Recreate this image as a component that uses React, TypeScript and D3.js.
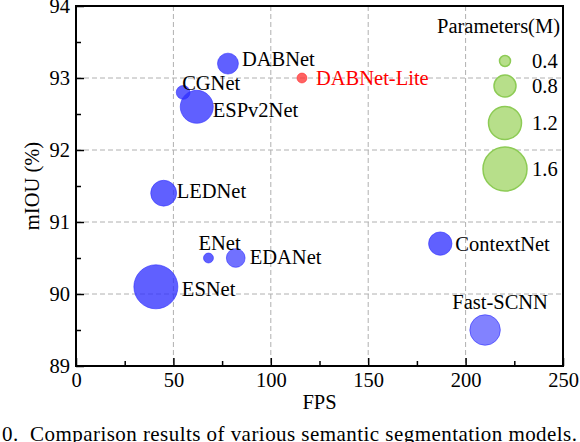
import * as d3 from "d3";
import { useEffect, useRef } from "react";

// models, FPS, mIOU (%) and parameters (M)
const models = ["DABNet", "CGNet", "ESPv2Net", "LEDNet", "DABNet-Lite", "ENet", "EDANet", "ESNet", "ContextNet", "Fast-SCNN"];
const fps = [78, 55, 62, 45, 116, 68, 82, 41, 187, 210];
const miou = [93.2, 92.8, 92.6, 91.4, 93.0, 90.5, 90.5, 90.1, 90.7, 89.5];
const params = [0.76, 0.5, 1.2, 0.94, 0.36, 0.36, 0.68, 1.6, 0.85, 1.11];

const legendSizes = [0.4, 0.8, 1.2, 1.6];
const xTicks = [0, 50, 100, 150, 200, 250];
const yTicks = [89, 90, 91, 92, 93, 94];

// label placement relative to each bubble centre (px)
const labelPlacement: Record<string, { dx: number; dy: number; anchor: string }> = {
    "DABNet": { dx: 14, dy: 2, anchor: "start" },
    "CGNet": { dx: -1, dy: -2, anchor: "start" },
    "ESPv2Net": { dx: 16, dy: 10, anchor: "start" },
    "LEDNet": { dx: 13, dy: 5, anchor: "start" },
    "DABNet-Lite": { dx: 14, dy: 7, anchor: "start" },
    "ENet": { dx: -10, dy: -8, anchor: "start" },
    "EDANet": { dx: 14, dy: 6, anchor: "start" },
    "ESNet": { dx: 26, dy: 9, anchor: "start" },
    "ContextNet": { dx: 15, dy: 7, anchor: "start" },
    "Fast-SCNN": { dx: 15, dy: -21, anchor: "middle" },
};

// a few bubbles are drawn lighter in the figure
const bubbleOpacity: Record<string, number> = { "EDANet": 0.68, "Fast-SCNN": 0.6 };

function drawChart(svgRef: React.RefObject<SVGSVGElement>) {
    const width = 580;
    const height = 442;
    const left = 76, right = 563, top = 6, bottom = 366;
    const font = "Liberation Serif, DejaVu Serif, Times New Roman, serif";

    const svg = d3.select(svgRef.current);
    svg.selectAll("*").remove();
    svg.attr("width", width).attr("height", height).attr("font-family", font);

    const x = d3.scaleLinear().domain([0, 250]).range([left, right]);
    const y = d3.scaleLinear().domain([89, 94]).range([bottom, top]);
    const r = d3.scaleLinear().domain([0, 1.6]).range([0, 22]);

    // dashed grid
    svg.append("g")
        .selectAll("line")
        .data(xTicks.slice(1, -1))
        .enter()
        .append("line")
        .attr("x1", d => x(d)).attr("x2", d => x(d))
        .attr("y1", top).attr("y2", bottom)
        .attr("stroke", "#b0b0b0").attr("stroke-width", 1)
        .attr("stroke-dasharray", "5,3");
    svg.append("g")
        .selectAll("line")
        .data(yTicks.slice(1, -1))
        .enter()
        .append("line")
        .attr("x1", left).attr("x2", right)
        .attr("y1", d => y(d)).attr("y2", d => y(d))
        .attr("stroke", "#b0b0b0").attr("stroke-width", 1)
        .attr("stroke-dasharray", "5,3");

    // inward ticks, major and minor
    const xAxis = d3.axisBottom(x).tickValues(xTicks).tickSize(-8).tickPadding(6).tickFormat(d3.format("d"));
    const xMinor = d3.axisBottom(x).tickValues(d3.range(25, 250, 50)).tickSize(-5).tickFormat(() => "");
    const yAxis = d3.axisLeft(y).tickValues(yTicks).tickSize(-8).tickPadding(6).tickFormat(d3.format("d"));
    const yMinor = d3.axisLeft(y).tickValues(d3.range(89.5, 94, 1)).tickSize(-5).tickFormat(() => "");

    const styleAxis = (g: any) => {
        g.attr("font-family", font).attr("font-size", 20.5);
        g.select(".domain").remove();
        g.selectAll(".tick line").attr("stroke", "#000").attr("stroke-width", 1.5);
        g.selectAll("text").attr("fill", "#000");
    };
    svg.append("g").attr("transform", `translate(0,${bottom})`).call(xAxis).call(styleAxis);
    svg.append("g").attr("transform", `translate(0,${bottom})`).call(xMinor).call(styleAxis);
    svg.append("g").attr("transform", `translate(${left},0)`).call(yAxis).call(styleAxis);
    svg.append("g").attr("transform", `translate(${left},0)`).call(yMinor).call(styleAxis);

    // frame
    svg.append("rect")
        .attr("x", left).attr("y", top)
        .attr("width", right - left).attr("height", bottom - top)
        .attr("fill", "none").attr("stroke", "#000").attr("stroke-width", 2);

    // bubbles
    const rows = models.map((m, i) => ({ name: m, fps: fps[i], miou: miou[i], p: params[i] }));
    svg.append("g")
        .selectAll("circle")
        .data(rows)
        .enter()
        .append("circle")
        .attr("cx", d => x(d.fps))
        .attr("cy", d => y(d.miou))
        .attr("r", d => r(d.p))
        .attr("fill", d => d.name === "DABNet-Lite" ? "#ff3030" : "#2e2eff")
        .attr("fill-opacity", d => bubbleOpacity[d.name] ?? 0.76)
        .attr("stroke", d => d.name === "DABNet-Lite" ? "#ff3030" : "#3030ff")
        .attr("stroke-opacity", 0.6)
        .attr("stroke-width", 1);

    svg.append("g")
        .attr("font-size", 20.5)
        .selectAll("text")
        .data(rows)
        .enter()
        .append("text")
        .attr("x", d => x(d.fps) + labelPlacement[d.name].dx)
        .attr("y", d => y(d.miou) + labelPlacement[d.name].dy)
        .attr("text-anchor", d => labelPlacement[d.name].anchor)
        .attr("fill", d => d.name === "DABNet-Lite" ? "#ff0000" : "#000")
        .text(d => d.name);

    // size legend
    const lg = svg.append("g").attr("font-size", 20.5);
    lg.append("text")
        .attr("x", 560).attr("y", 33)
        .attr("text-anchor", "end")
        .text("Parameters(M)");
    const legendY = [61, 86, 123, 169];
    lg.selectAll("circle")
        .data(legendSizes)
        .enter()
        .append("circle")
        .attr("cx", 505)
        .attr("cy", (d, i) => legendY[i])
        .attr("r", d => r(d))
        .attr("fill", "#b7df8a")
        .attr("stroke", "#8dcb55")
        .attr("stroke-width", 1.5);
    lg.selectAll("text.lab")
        .data(legendSizes)
        .enter()
        .append("text")
        .attr("class", "lab")
        .attr("x", 532)
        .attr("y", (d, i) => legendY[i] + 7)
        .text(d => d.toFixed(1));

    // axis titles
    svg.append("text")
        .attr("x", (left + right) / 2).attr("y", 409)
        .attr("text-anchor", "middle")
        .attr("font-size", 20.5)
        .text("FPS");
    svg.append("text")
        .attr("transform", `translate(39,${(top + bottom) / 2}) rotate(-90)`)
        .attr("text-anchor", "middle")
        .attr("font-size", 20.5)
        .text("mIOU (%)");

    // caption, cut at the left edge as in the figure
    svg.append("text")
        .attr("x", 2).attr("y", 441)
        .attr("font-size", 21)
        .attr("textLength", 575)
        .attr("lengthAdjust", "spacing")
        .style("white-space", "pre")
        .text("0.  Comparison results of various semantic segmentation models.");
}

export default function App() {
    const svgRef = useRef<SVGSVGElement>(null);
    useEffect(() => {
        drawChart(svgRef);
    }, [svgRef]);

    return (
        <svg ref={svgRef} style={{ position: "absolute", left: 0, top: 0, background: "#fff" }} />
    );
}
